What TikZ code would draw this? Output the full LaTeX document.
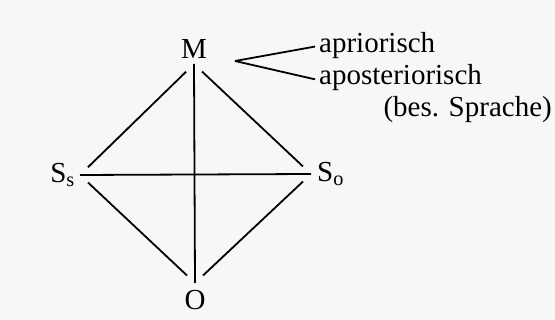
\documentclass[tikz,border=0pt]{standalone}
\usepackage{fontspec}
\setmainfont{Liberation Serif}
\begin{document}
\begin{tikzpicture}[
every node/.style={font=\fontsize{29}{33}\selectfont, inner sep=1pt},
x=1pt,
y=-1pt,
edge/.style={line width=1.8pt},
diag/.style={edge, shorten <=11pt, shorten >=11pt},
fork/.style={edge, shorten >=3pt}
]
\fill[black!3] (0,0) rectangle (555,320);

\coordinate (vM) at (194,64);
\coordinate (vSs) at (80,175);
\coordinate (vSo) at (311,174);
\coordinate (vO) at (195,283);
\coordinate (split) at (235,61);

\node[above=4pt] (M) at (vM) {M};
\node[left=4pt] (Ss) at (vSs) {S\textsubscript{s}};
\node[right=5pt] (So) at (vSo) {S\textsubscript{o}};
\node[below=6pt] (O) at (vO) {O};

\node[anchor=base west] (apr) at (318,53) {apriorisch};
\node[anchor=base west] (apo) at (318,85) {aposteriorisch};
\node[anchor=base east] (bes) at (553,117) {(bes. Sprache)};

\draw[edge] (vM)--(vO);
\draw[edge] (vSs)--(vSo);
\draw[diag] (vM)--(vSs); \draw[diag] (vM)--(vSo);
\draw[diag] (vSs)--(vO); \draw[diag] (vSo)--(vO);

\draw[fork] (split)--(apr.west);
\draw[fork] (split)--([yshift=-2pt]apo.west);
\end{tikzpicture}
\end{document}
